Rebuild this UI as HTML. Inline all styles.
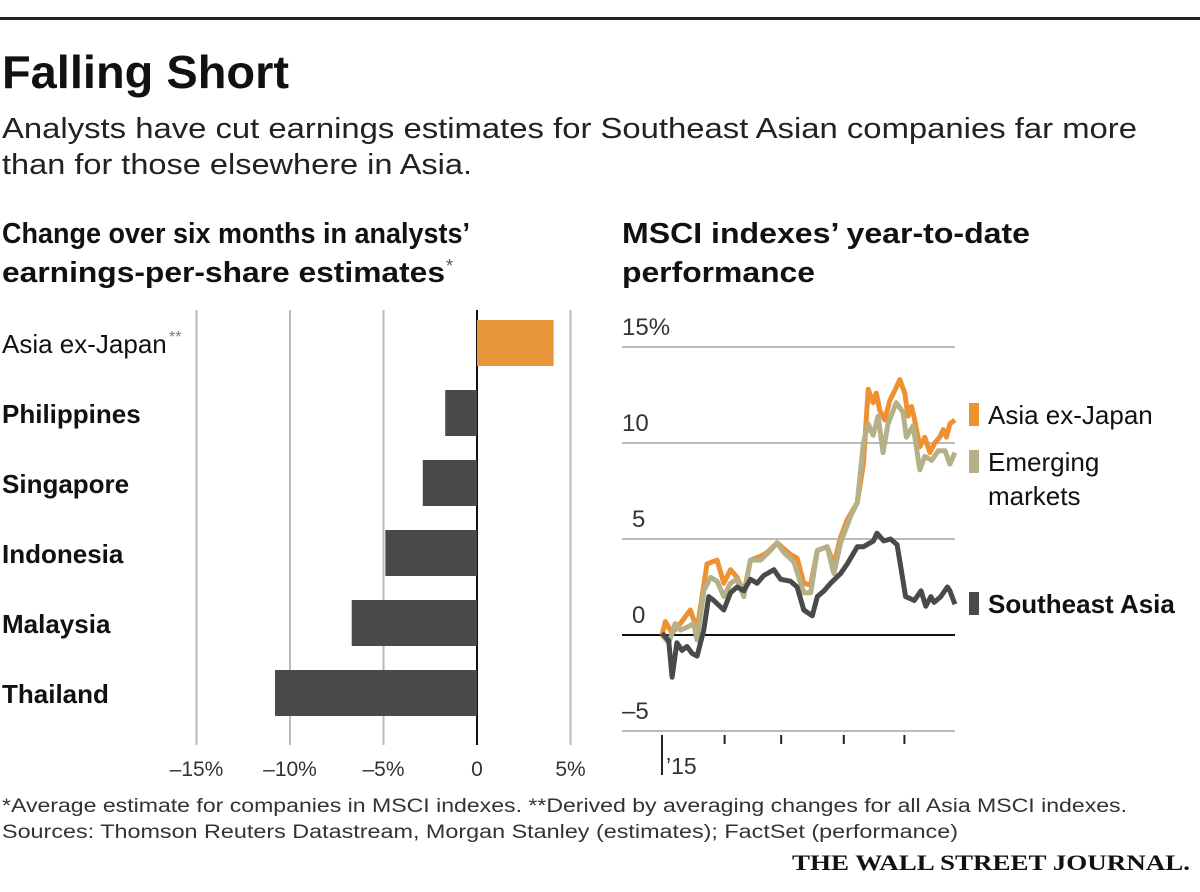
<!DOCTYPE html>
<html><head><meta charset="utf-8"><style>
html,body{margin:0;padding:0;background:#fff;}
svg{display:block;font-family:"Liberation Sans",sans-serif;}
</style></head><body>
<svg id="c" width="1200" height="892" viewBox="0 0 1200 892">
<rect x="0" y="17" width="1200" height="3" fill="#222"/>
<text x="2" y="88" font-size="46" font-weight="bold" textLength="287" lengthAdjust="spacingAndGlyphs" fill="#111">Falling Short</text>
<text x="2" y="138" font-size="29" textLength="1135" lengthAdjust="spacingAndGlyphs" fill="#222">Analysts have cut earnings estimates for Southeast Asian companies far more</text>
<text x="2" y="174" font-size="29" textLength="470" lengthAdjust="spacingAndGlyphs" fill="#222">than for those elsewhere in Asia.</text>
<text x="2" y="243" font-size="29" font-weight="bold" textLength="468" lengthAdjust="spacingAndGlyphs" fill="#111">Change over six months in analysts’</text>
<text x="2" y="282" font-size="29" font-weight="bold" textLength="443" lengthAdjust="spacingAndGlyphs" fill="#111">earnings-per-share estimates</text>
<text x="446" y="272" font-size="18" fill="#555">*</text>
<text x="622" y="243" font-size="29" font-weight="bold" textLength="408" lengthAdjust="spacingAndGlyphs" fill="#111">MSCI indexes’ year-to-date</text>
<text x="622" y="282" font-size="29" font-weight="bold" textLength="193" lengthAdjust="spacingAndGlyphs" fill="#111">performance</text>
<g id="bars"></g>
<g id="lines"></g>
<text x="2" y="812" font-size="19" textLength="1125" lengthAdjust="spacingAndGlyphs" fill="#333">*Average estimate for companies in MSCI indexes. **Derived by averaging changes for all Asia MSCI indexes.</text>
<text x="2" y="838" font-size="19" textLength="956" lengthAdjust="spacingAndGlyphs" fill="#333">Sources: Thomson Reuters Datastream, Morgan Stanley (estimates); FactSet (performance)</text>
<text x="1190" y="870" font-size="22" font-family="Liberation Serif, serif" font-weight="bold" text-anchor="end" textLength="398" lengthAdjust="spacingAndGlyphs" fill="#111">THE WALL STREET JOURNAL.</text>
</svg>
<script>
const barCategories=["Asia ex-Japan","Philippines","Singapore","Indonesia","Malaysia","Thailand"];
const barValues=[4.1,-1.7,-2.9,-4.9,-6.7,-10.8];
const barTicks=[-15,-10,-5,0,5];
const barTickLabels=["–15%","–10%","–5%","0","5%"];

const lineTicks=[15,10,5,0,-5];
const lineTickLabels=["15%","10","5","0","–5"];
const monthTickDays=[31,59,90,120];
const aejDays=[0,1.7,5,7.4,9.1,11.6,14,15.7,17.4,19.8,22.3,27.3,30.6,33.9,37.2,40.5,43.8,48.8,52.1,57,60.3,63.6,66.9,70.2,73.6,76.9,81.8,85.1,88.4,91.7,96.7,99.7,102.1,104.5,106.1,107.8,110.3,112.7,116,117.7,120.2,121.8,123.5,125.1,127.6,130.1,132.6,135,137.5,139.2,140.8,142.5,145];
const aejVals=[0,0.7,0.1,0.4,0.6,0.96,1.3,0.8,0.26,2.0,3.7,3.9,2.7,3.4,3.0,2.2,3.9,4.1,4.3,4.8,4.5,4.2,4.0,2.7,2.6,4.4,4.6,3.7,5.1,6.0,6.9,8.9,12.8,12.1,12.6,11.7,11.2,12.2,12.9,13.3,12.6,11.4,11.9,11.2,9.8,10.3,9.5,10.0,10.3,10.7,10.3,11.0,11.2];
const emDays=[0,3.3,6.6,9.1,12.4,15.7,17.4,20.7,24,27.3,30.6,33.9,37.2,40.5,43.8,48.8,53.7,57,60.3,65.3,70.2,73.6,76.9,81.8,85.1,88.4,93.4,96.7,99.7,102.1,104.5,107,109.4,111.9,116,119.3,121,124.3,127.6,130.1,133.5,136.8,140.1,142.5,145];
const emVals=[0,-0.4,0.6,0.26,0.4,0.6,-0.26,2.3,3.0,2.8,2.0,2.7,2.9,2.0,3.9,3.9,4.4,4.8,4.3,3.8,2.2,2.2,4.4,4.6,3.2,4.8,6.2,6.9,10.0,11.0,10.4,11.4,9.5,11.0,12.1,11.6,10.3,10.9,8.6,9.3,9.1,9.6,9.6,8.9,9.5];
const seDays=[0,3.3,5,7.4,9.9,12.4,14.9,17.4,20.7,23.1,25.6,30.6,33.9,37.2,40.5,43.8,47.1,50.4,55.4,58.7,63.6,66.9,70.2,74.4,76.9,80.2,83.5,88.4,91.7,96.7,99.7,104.7,106.4,109.8,113.1,116.4,118.1,120.6,124.9,128.2,130.6,133.1,134.7,138.0,141.3,142.5,145];
const seVals=[0.1,-0.3,-2.2,-0.4,-0.8,-0.6,-0.96,-1.1,0.26,2.0,1.8,1.3,2.2,2.5,2.3,2.9,2.7,3.1,3.4,2.9,2.8,2.5,1.3,1.0,2.0,2.3,2.7,3.2,3.7,4.6,4.6,4.9,5.3,4.9,5.0,4.7,3.6,2.0,1.8,2.3,1.5,2.0,1.7,2.0,2.5,2.3,1.6];

const NS="http://www.w3.org/2000/svg";
function mk(parent,tag,attrs,text){const e=document.createElementNS(NS,tag);for(const k in attrs)e.setAttribute(k,attrs[k]);if(text!==undefined)e.textContent=text;parent.appendChild(e);return e;}

const bx=v=>477+v*18.7;
const bars=document.getElementById('bars');
barTicks.forEach((t,i)=>{
  const g=mk(bars,'line',{x1:bx(t),x2:bx(t),y1:310,y2:745,stroke:t===0?'#111':'#bbb','stroke-width':2});
  
  
  const l=mk(bars,'text',{x:bx(t),y:776,'font-size':21,'text-anchor':'middle',fill:'#333'},barTickLabels[i]);
  
  
});
barCategories.forEach((c,i)=>{
  const y=320+i*70, v=barValues[i];
  const r=mk(bars,'rect',{x:Math.min(bx(0),bx(v)),y:y,width:Math.abs(bx(v)-bx(0)),height:46,fill:i===0?'#e8963a':'#4a4a4a'});
  
  
  const t=mk(bars,'text',{x:2,y:y+33,'font-size':26,'font-weight':i===0?'normal':'bold',fill:'#111'},c);
  
  
  if(i===0){const s=mk(bars,'text',{x:169,y:y+22,'font-size':16,fill:'#777'},'**');
    
    }
});

const lx=d=>662+d*2.02;
const ly=v=>635-v*19.2;
const lines=document.getElementById('lines');
lineTicks.forEach((t,i)=>{
  const g=mk(lines,'line',{x1:622,x2:955,y1:ly(t),y2:ly(t),stroke:t===0?'#111':'#bbb','stroke-width':2});
  
  
  const l=mk(lines,'text',{x:t===5||t===0?632:622,y:ly(t)-12,'font-size':24,fill:'#333'},lineTickLabels[i]);
  
  
});
const ax=mk(lines,'line',{x1:lx(0),x2:lx(0),y1:735,y2:775,stroke:'#222','stroke-width':2});


const yl=mk(lines,'text',{x:666,y:774,'font-size':23,fill:'#333'},'’15');


monthTickDays.forEach(d=>{
  const t=mk(lines,'line',{x1:lx(d),x2:lx(d),y1:735,y2:744,stroke:'#222','stroke-width':2});
  
  
});
function series(days,vals,color,name){
  const p=mk(lines,'polyline',{points:days.map((d,i)=>lx(d).toFixed(1)+','+ly(vals[i]).toFixed(1)).join(' '),fill:'none',stroke:color,'stroke-width':5,'stroke-linejoin':'round'});
  
  
}
series(aejDays,aejVals,'#ee9132','line-asia-ex-japan');
series(emDays,emVals,'#b5b088','line-emerging-markets');
series(seDays,seVals,'#4a4a4a','line-southeast-asia');

const legend=[[403,'#ee9132',['Asia ex-Japan'],'normal'],[450,'#b5b088',['Emerging','markets'],'normal'],[592,'#4a4a4a',['Southeast Asia'],'bold']];
legend.forEach(([y,c,txt,w])=>{
  const r=mk(lines,'rect',{x:969,y:y,width:10,height:23,fill:c});
  
  
  txt.forEach((t,j)=>{
    const e=mk(lines,'text',{x:988,y:y+21+j*34,'font-size':26,'font-weight':w,fill:'#111'},t);
    
    
  });
});
</script>
</body></html>
